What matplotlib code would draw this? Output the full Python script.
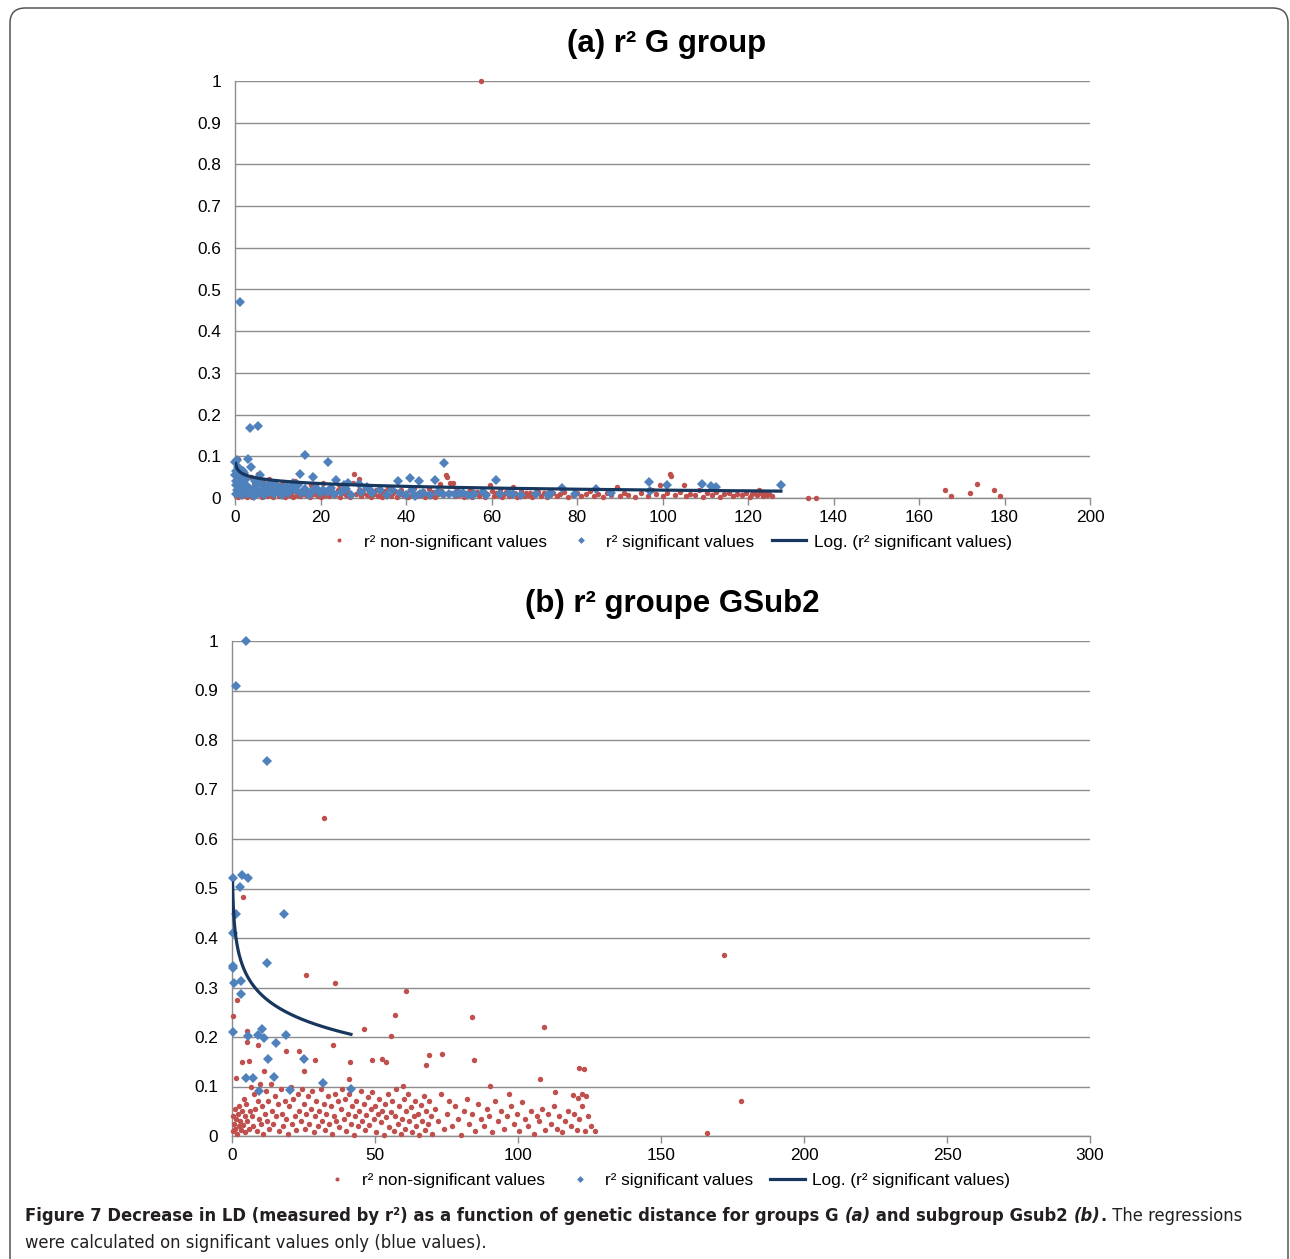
import matplotlib
matplotlib.use("Agg")
import matplotlib.pyplot as plt
from matplotlib import font_manager
from matplotlib.patches import FancyBboxPatch
from matplotlib.ticker import FuncFormatter, MultipleLocator
import numpy as np

# ---------------- data ----------------
# Panel (a): r2 G group
nonsig_a_x = [0.2, 0.4, 0.6, 0.9, 1.1, 1.3, 1.6, 1.9, 2.1, 2.4, 2.7, 3.0, 3.3, 3.6, 3.9, 4.2, 4.5, 4.8, 5.1, 5.4,
              5.7, 6.0, 6.4, 6.8, 7.1, 7.5, 7.9, 8.3, 8.7, 9.0, 9.4, 9.8, 10.2, 10.6, 11.0, 11.4, 11.8, 12.2, 12.7, 13.1,
              13.5, 13.9, 14.4, 14.8, 15.2, 15.7, 16.1, 16.6, 17.0, 17.5, 18.0, 18.4, 18.9, 19.3, 19.8, 20.2, 20.7, 21.1,
              21.6, 22.1, 22.5, 23.0, 23.5, 24.0, 24.5, 25.0, 25.5, 26.0, 26.5, 27.0, 27.5, 27.9, 28.4, 28.9, 29.4, 29.9,
              30.4, 30.9, 31.4, 31.9, 32.4, 32.9, 33.4, 33.9, 34.4, 34.9, 35.4, 35.9, 36.4, 36.9, 37.4, 37.9, 38.4, 38.9,
              39.4, 39.9, 40.4, 40.9, 41.4, 41.9, 42.4, 42.9, 43.4, 43.9, 44.4, 44.9, 45.4, 45.9, 46.4, 46.9, 47.4, 47.9,
              48.3, 48.6, 49.4, 49.6, 50.2, 51.0, 48.0, 50.6, 51.5, 52.0, 52.5, 53.0, 53.5, 54.0, 54.5, 55.0, 55.5, 56.0,
              56.5, 57.0, 57.5, 58.0, 58.5, 59.0, 59.7, 60.0, 60.5, 61.0, 61.5, 62.0, 62.5, 63.0, 63.5, 64.0, 64.5, 65.1,
              65.5, 66.0, 66.5, 67.0, 67.5, 68.0, 68.5, 69.0, 69.5, 70.0, 70.8, 71.5, 72.2, 73.0, 73.8, 74.5, 75.3, 76.0,
              77.0, 78.0, 79.0, 80.0, 81.0, 82.0, 83.0, 84.0, 85.0, 86.0, 87.0, 88.0, 89.4, 90.0, 91.0, 92.0, 93.5, 95.0,
              96.5, 97.5, 98.5, 99.5, 100.0, 101.0, 101.7, 102.0, 103.0, 104.0, 105.0, 105.5, 106.5, 107.5, 108.5, 109.5,
              110.5, 111.5, 112.5, 113.5, 114.5, 115.5, 116.5, 117.5, 118.5, 119.5, 120.5, 121.0, 121.5, 122.0, 122.5,
              123.0, 123.5, 124.0, 124.5, 125.0, 125.5, 134.0, 136.0, 166.0, 167.5, 172.0, 173.5, 177.5, 179.0,
              0.8, 0.5, 1.0, 2.0, 3.8, 6.5, 8.0, 11.2, 14.0, 17.8, 20.5, 24.3, 29.0]
nonsig_a_y = [0.005, 0.012, 0.002, 0.020, 0.008, 0.030, 0.004, 0.015, 0.045, 0.010, 0.002, 0.025, 0.007, 0.018, 0.003,
              0.012, 0.035, 0.006, 0.022, 0.058, 0.009, 0.015, 0.003, 0.028, 0.010, 0.004, 0.018, 0.007, 0.025, 0.002,
              0.012, 0.020, 0.005, 0.030, 0.009, 0.015, 0.003, 0.022, 0.008, 0.013, 0.002, 0.028, 0.006, 0.017, 0.004,
              0.010, 0.024, 0.007, 0.014, 0.002, 0.019, 0.009, 0.032, 0.005, 0.013, 0.003, 0.021, 0.008, 0.015, 0.004,
              0.027, 0.010, 0.006, 0.018, 0.003, 0.012, 0.022, 0.007, 0.015, 0.002, 0.035, 0.058, 0.009, 0.019, 0.004,
              0.012, 0.025, 0.006, 0.015, 0.003, 0.010, 0.020, 0.005, 0.013, 0.002, 0.017, 0.008, 0.024, 0.004, 0.011,
              0.016, 0.003, 0.009, 0.020, 0.006, 0.013, 0.002, 0.018, 0.008, 0.025, 0.004, 0.012, 0.007, 0.016, 0.003,
              0.010, 0.021, 0.005, 0.014, 0.002, 0.009, 0.030, 0.017, 0.006, 0.054, 0.050, 0.035, 0.036, 0.033, 0.012,
              0.004, 0.020, 0.008, 0.014, 0.002, 0.011, 0.006, 0.018, 0.003, 0.010, 0.015, 0.005, 1.000, 0.012, 0.002,
              0.009, 0.030, 0.016, 0.004, 0.011, 0.007, 0.020, 0.003, 0.010, 0.014, 0.005, 0.009, 0.026, 0.012, 0.003,
              0.008, 0.016, 0.004, 0.011, 0.006, 0.013, 0.002, 0.009, 0.014, 0.005, 0.011, 0.003, 0.008, 0.013, 0.004,
              0.009, 0.015, 0.003, 0.007, 0.012, 0.004, 0.009, 0.016, 0.005, 0.010, 0.003, 0.013, 0.007, 0.026, 0.004,
              0.011, 0.008, 0.003, 0.012, 0.005, 0.020, 0.009, 0.032, 0.004, 0.012, 0.058, 0.052, 0.007, 0.015, 0.032,
              0.004, 0.010, 0.006, 0.018, 0.003, 0.011, 0.007, 0.014, 0.002, 0.009, 0.013, 0.004, 0.010, 0.006, 0.012,
              0.003, 0.009, 0.015, 0.007, 0.018, 0.011, 0.005, 0.013, 0.008, 0.010, 0.004, 0.001, 0.001, 0.018, 0.004,
              0.012, 0.033, 0.018, 0.005,
              0.094, 0.040, 0.060, 0.028, 0.050, 0.040, 0.045, 0.038, 0.040, 0.030, 0.035, 0.030, 0.045]

sig_a_x = [1.1, 3.4, 5.3, 16.3, 21.8, 48.9, 0.1, 3.1, 0.4, 3.7, 2.0, 5.9, 15.3, 18.2, 23.6, 26.4, 28.9, 38.1, 40.9,
           43.0, 46.7, 61.0, 76.6, 84.5, 96.8, 97.0, 101.0, 109.2, 111.4, 112.4, 127.7, 0.2, 0.5, 1.0, 0.3, 2.5,
           0.2, 0.5, 0.8, 1.2, 1.6, 2.1, 2.6, 3.0, 3.5, 4.0, 4.4, 4.9, 5.5, 6.2, 6.8, 7.3, 7.9, 8.5, 9.1, 9.8, 10.4,
           11.0, 11.7, 12.5, 13.2, 14.0, 14.8, 15.5, 16.4, 17.2, 18.0, 18.9, 19.8, 20.6, 21.5, 22.4, 23.2, 24.8,
           26.0, 27.1, 29.5, 30.8, 32.1, 34.0, 35.6, 36.8, 38.5, 40.0, 41.5, 44.0, 45.5, 47.5, 50.0, 52.5, 54.5,
           56.0, 58.0, 62.0, 64.0, 67.0, 70.5, 74.0, 79.5, 88.0, 0.1, 0.3, 1.5, 2.8, 6.0, 9.5, 12.0, 25.5, 31.5,
           1.8, 0.7, 4.6, 8.2, 10.8, 13.5, 48.6, 51.5, 55.7, 58.7, 65.0, 73.3, 53.3, 43.3, 42.0]
sig_a_y = [0.471, 0.169, 0.172, 0.104, 0.086, 0.084, 0.086, 0.093, 0.092, 0.074, 0.060, 0.054, 0.058, 0.050, 0.044,
           0.036, 0.034, 0.040, 0.049, 0.041, 0.044, 0.044, 0.024, 0.022, 0.038, 0.017, 0.032, 0.034, 0.028, 0.026,
           0.030, 0.065, 0.055, 0.050, 0.040, 0.045,
           0.030, 0.020, 0.012, 0.025, 0.008, 0.018, 0.030, 0.010, 0.022, 0.015, 0.005, 0.028, 0.012, 0.020, 0.008,
           0.025, 0.015, 0.020, 0.010, 0.022, 0.016, 0.008, 0.020, 0.013, 0.024, 0.018, 0.030, 0.012, 0.022, 0.008,
           0.017, 0.025, 0.012, 0.020, 0.015, 0.024, 0.010, 0.015, 0.022, 0.008, 0.015, 0.026, 0.012, 0.018, 0.008,
           0.020, 0.012, 0.007, 0.020, 0.012, 0.006, 0.015, 0.009, 0.012, 0.006, 0.010, 0.014, 0.009, 0.012, 0.008,
           0.010, 0.012, 0.010, 0.012, 0.055, 0.010, 0.035, 0.020, 0.035, 0.030, 0.028, 0.030, 0.020, 0.065, 0.075,
           0.040, 0.035, 0.025, 0.035, 0.010, 0.010, 0.008, 0.008, 0.009, 0.008, 0.012, 0.009, 0.005]

# logarithmic regression (Excel "Log." trendline): y = b + c*ln(x)
log_a_b, log_a_c, log_a_range = 0.0640, -0.0098, (0.15, 127.7)

# Panel (b): r2 groupe GSub2
nonsig_b_x = [32.3, 3.7, 1.7, 0.2, 25.9, 36.1, 60.8, 57.0, 55.6, 83.8, 109.2, 172.0, 46.3, 5.1, 5.1, 9.0, 18.9, 23.5,
              35.4, 29.0, 3.4, 5.9, 25.3, 48.8, 52.6, 53.7, 41.4, 69.0, 67.7, 73.4, 84.6, 59.7, 90.2, 107.8, 121.4,
              123.0, 1.3, 11.2, 40.9, 178.0, 166.0, 97.0, 113.0, 119.3, 122.4, 123.8, 121.0, 127.0,
              0.3, 0.5, 0.8, 1.0, 1.2, 1.5, 1.8, 2.0, 2.3, 2.6, 2.9, 3.2, 3.5, 3.8, 4.1, 4.4, 4.7, 5.0, 5.4, 5.8, 6.2,
              6.6, 7.0, 7.4, 7.8, 8.2, 8.6, 9.0, 9.4, 9.8, 10.2, 10.6, 11.0, 11.4, 11.8, 12.2, 12.7, 13.1, 13.5, 14.0,
              14.5, 15.0, 15.5, 16.0, 16.5, 17.0, 17.5, 18.0, 18.5, 19.0, 19.5, 20.0, 20.5, 21.0, 21.5, 22.0, 22.5,
              23.0, 23.5, 24.0, 24.5, 25.0, 25.5, 26.0, 26.5, 27.0, 27.5, 28.0, 28.5, 29.0, 29.5, 30.0, 30.5, 31.0,
              31.5, 32.0, 32.5, 33.0, 33.5, 34.0, 34.5, 35.0, 35.5, 36.0, 36.5, 37.0, 37.5, 38.0, 38.5, 39.0, 39.5,
              40.0, 40.5, 41.0, 41.5, 42.0, 42.5, 43.0, 43.5, 44.0, 44.5, 45.0, 45.5, 46.0, 46.5, 47.0, 47.5, 48.0,
              48.5, 49.0, 49.5, 50.0, 50.5, 51.0, 51.5, 52.0, 52.5, 53.0, 53.5, 54.0, 54.5, 55.0, 55.5, 56.0, 56.5,
              57.0, 57.5, 58.0, 58.5, 59.0, 59.5, 60.0, 60.5, 61.0, 61.5, 62.0, 62.5, 63.0, 63.5, 64.0, 64.5, 65.0,
              65.5, 66.0, 66.5, 67.0, 67.5, 68.0, 68.5, 69.0, 69.5, 70.0, 71.0, 72.0, 73.0, 74.0, 75.0, 76.0, 77.0,
              78.0, 79.0, 80.0, 81.0, 82.0, 83.0, 84.0, 85.0, 86.0, 87.0, 88.0, 89.0, 90.0, 91.0, 92.0, 93.0, 94.0,
              95.0, 96.0, 97.5, 98.5, 99.5, 100.5, 101.5, 102.5, 103.5, 104.5, 105.5, 106.5, 107.5, 108.5, 109.5,
              110.5, 111.5, 112.5, 113.5, 114.5, 115.5, 116.5, 117.5, 118.5, 119.5, 120.5, 121.5, 122.5, 123.5,
              124.5, 125.5]
nonsig_b_y = [0.643, 0.483, 0.274, 0.243, 0.325, 0.310, 0.293, 0.245, 0.203, 0.241, 0.220, 0.366, 0.216, 0.213, 0.190,
              0.184, 0.172, 0.172, 0.184, 0.154, 0.150, 0.151, 0.131, 0.153, 0.156, 0.149, 0.149, 0.164, 0.143, 0.166,
              0.154, 0.102, 0.102, 0.115, 0.137, 0.135, 0.118, 0.131, 0.115, 0.070, 0.006, 0.085, 0.088, 0.083, 0.084,
              0.080, 0.077, 0.010,
              0.010, 0.040, 0.025, 0.055, 0.015, 0.035, 0.005, 0.045, 0.020, 0.060, 0.030, 0.012, 0.050, 0.022, 0.075,
              0.040, 0.008, 0.065, 0.030, 0.015, 0.050, 0.100, 0.040, 0.020, 0.085, 0.055, 0.010, 0.070, 0.035, 0.105,
              0.025, 0.060, 0.005, 0.045, 0.090, 0.030, 0.070, 0.015, 0.105, 0.050, 0.025, 0.080, 0.040, 0.065, 0.010,
              0.095, 0.045, 0.020, 0.070, 0.035, 0.005, 0.060, 0.100, 0.025, 0.075, 0.040, 0.012, 0.085, 0.050, 0.030,
              0.095, 0.065, 0.015, 0.045, 0.080, 0.025, 0.055, 0.090, 0.008, 0.040, 0.070, 0.020, 0.050, 0.095, 0.030,
              0.065, 0.012, 0.045, 0.080, 0.025, 0.060, 0.005, 0.040, 0.085, 0.030, 0.070, 0.018, 0.055, 0.095, 0.035,
              0.075, 0.010, 0.045, 0.085, 0.025, 0.060, 0.002, 0.040, 0.070, 0.020, 0.050, 0.090, 0.030, 0.065, 0.012,
              0.042, 0.078, 0.022, 0.055, 0.088, 0.035, 0.060, 0.008, 0.045, 0.075, 0.028, 0.050, 0.003, 0.065, 0.038,
              0.085, 0.018, 0.048, 0.070, 0.010, 0.040, 0.095, 0.025, 0.060, 0.005, 0.035, 0.075, 0.015, 0.050, 0.085,
              0.030, 0.058, 0.008, 0.040, 0.070, 0.020, 0.045, 0.002, 0.062, 0.030, 0.080, 0.012, 0.050, 0.025, 0.070,
              0.040, 0.005, 0.055, 0.030, 0.085, 0.015, 0.045, 0.070, 0.020, 0.060, 0.035, 0.003, 0.050, 0.075, 0.025,
              0.045, 0.010, 0.065, 0.035, 0.020, 0.055, 0.040, 0.008, 0.070, 0.030, 0.050, 0.015, 0.040, 0.060, 0.025,
              0.045, 0.010, 0.068, 0.035, 0.020, 0.050, 0.005, 0.040, 0.030, 0.055, 0.012, 0.045, 0.025, 0.060, 0.015,
              0.040, 0.008, 0.030, 0.050, 0.020, 0.045, 0.012, 0.035, 0.060, 0.010, 0.040, 0.020]

sig_b_x = [4.8, 1.3, 12.3, 0.5, 3.6, 5.5, 2.8, 1.4, 18.2, 0.2, 0.2, 0.2, 12.3, 0.8, 3.1, 3.1, 0.2, 5.5, 10.4, 9.0,
           11.1, 15.4, 18.9, 12.7, 25.3, 4.8, 7.5, 14.8, 9.4, 20.3, 31.9, 41.6]
sig_b_y = [1.000, 0.910, 0.757, 0.522, 0.527, 0.522, 0.504, 0.448, 0.448, 0.410, 0.343, 0.340, 0.349, 0.309, 0.313,
           0.286, 0.210, 0.202, 0.217, 0.205, 0.197, 0.188, 0.205, 0.155, 0.155, 0.117, 0.117, 0.119, 0.090, 0.093,
           0.108, 0.094]

log_b_b, log_b_c, log_b_range = 0.419, -0.0573, (0.2, 41.6)

# ---------------- style ----------------
RED = "#C0504D"
BLUE = "#4F81BD"
NAVY = "#17375E"
GRID = "#8C8C8C"

fonts = font_manager.fontManager.ttflist
names = {f.name for f in fonts}
BASE = "Liberation Sans" if "Liberation Sans" in names else "DejaVu Sans"


def wnum(w):
    if isinstance(w, (int, float)):
        return w
    return font_manager.weight_dict.get(str(w), 400)


def has_bold(name, stretch=None):
    return any(f.name == name and wnum(f.weight) >= 600 and (stretch is None or f.stretch == stretch)
               and f.style == "normal" for f in fonts)


def has_regular(name, stretch=None):
    return any(f.name == name and 350 <= wnum(f.weight) < 500 and (stretch is None or f.stretch == stretch)
               and f.style == "normal" for f in fonts)


CAPF, CAPSTRETCH = BASE, "normal"
cands = []
for f in fonts:
    if "Narrow" in f.name or "Condensed" in f.name:
        cands.append((f.name, None))
    elif f.stretch in ("condensed", "semi-condensed"):
        cands.append((f.name, f.stretch))
pref = sorted(set(cands), key=lambda c: (0 if "Liberation" in c[0] else 1 if "DejaVu" in c[0] else 2, c[0]))
for nm, st in pref:
    if has_bold(nm, st) and has_regular(nm, st):
        CAPF, CAPSTRETCH = nm, (st or "normal")
        break
plt.rcParams["font.family"] = [BASE, "DejaVu Sans"]

W, H = 1290, 1259
fig = plt.figure(figsize=(W / 100, H / 100), dpi=100)


def px_axes(l, t, r, b):
    return fig.add_axes([l / W, 1 - b / H, (r - l) / W, (b - t) / H])


def style(ax, xmax, xstep):
    ax.set_xlim(0, xmax)
    ax.set_ylim(0, 1)
    ax.xaxis.set_major_locator(MultipleLocator(xstep))
    ax.yaxis.set_major_locator(MultipleLocator(0.1))
    ax.yaxis.set_major_formatter(FuncFormatter(lambda v, p: f"{round(v, 1):g}"))
    ax.xaxis.set_major_formatter(FuncFormatter(lambda v, p: f"{v:g}"))
    ax.grid(axis="y", color=GRID, linewidth=1.0)
    ax.set_axisbelow(True)
    for s in ("top", "right"):
        ax.spines[s].set_visible(False)
    for s in ("left", "bottom"):
        ax.spines[s].set_color(GRID)
        ax.spines[s].set_linewidth(1.0)
    ax.tick_params(axis="x", length=5, width=1.0, color=GRID, labelsize=12.4, pad=4)
    ax.tick_params(axis="y", length=0, labelsize=12.4, pad=10)


def panel(ax, nx, ny, sx, sy, b, c, rng, legend_y):
    ax.plot(nx, ny, "o", color=RED, ms=3.9, mew=0, label="r² non-significant values", clip_on=False, zorder=3)
    ax.plot(sx, sy, "D", color=BLUE, ms=4.6, mew=0, label="r² significant values", clip_on=False, zorder=4)
    xs = np.geomspace(rng[0], rng[1], 300)
    ax.plot(xs, b + c * np.log(xs), "-", color=NAVY, lw=2.3, label="Log. (r² significant values)", zorder=5)
    ax.legend(loc="center", bbox_to_anchor=(0.505, legend_y), ncol=3, frameon=False, fontsize=12.4,
              handlelength=2.0, handletextpad=0.45, columnspacing=1.0, borderaxespad=0, markerscale=0.75)


ax1 = px_axes(235, 81, 1090, 498)
style(ax1, 200, 20)
panel(ax1, nonsig_a_x, nonsig_a_y, sig_a_x, sig_a_y, log_a_b, log_a_c, log_a_range, -44 / 417)

ax2 = px_axes(232, 641, 1090, 1136)
style(ax2, 300, 50)
panel(ax2, nonsig_b_x, nonsig_b_y, sig_b_x, sig_b_y, log_b_b, log_b_c, log_b_range, -44 / 495)

fig.text(667 / W, 1 - 44 / H, "(a) r² G group", ha="center", va="center", fontsize=22.5, fontweight="bold")
fig.text(672 / W, 1 - 604 / H, "(b) r² groupe GSub2", ha="center", va="center", fontsize=22.5, fontweight="bold")

# frame
frame = FancyBboxPatch((10 / W, -0.05), (1288 - 10) / W, 1.05 - 8 / H,
                       boxstyle="round,pad=0,rounding_size=0.012", transform=fig.transFigure,
                       facecolor="none", edgecolor="#555555", linewidth=1.1, clip_on=False)
fig.patches.append(frame)

# caption
cap_pieces = [
    ("Figure 7 Decrease in LD (measured by r²) as a function of genetic distance for groups G ", "bold", "normal"),
    ("(a)", "bold", "italic"),
    (" and subgroup Gsub2 ", "bold", "normal"),
    ("(b)", "bold", "italic"),
    (".", "bold", "normal"),
    (" The regressions", "normal", "normal"),
]
cap_line2 = "were calculated on significant values only (blue values)."
renderer = fig.canvas.get_renderer()


def draw_line(pieces, x0, ybase, fs):
    x = x0
    arts = []
    for txt, wt, st in pieces:
        t = fig.text(x / W, 1 - ybase / H, txt, fontsize=fs, fontweight=wt, fontstyle=st,
                     family=[CAPF, "DejaVu Sans"], fontstretch=CAPSTRETCH,
                     color="#231F20", va="baseline", ha="left")
        bb = t.get_window_extent(renderer)
        x += bb.width
        arts.append(t)
    return x - x0, arts


width, arts = draw_line(cap_pieces, 25, 1221, 14)
for a in arts:
    a.remove()
fs_cap = min(15.0, 14 * (1224 / width))
draw_line(cap_pieces, 25, 1221, fs_cap)
draw_line([(cap_line2, "normal", "normal")], 25, 1248, fs_cap)

fig.savefig("out.png", dpi=100)
